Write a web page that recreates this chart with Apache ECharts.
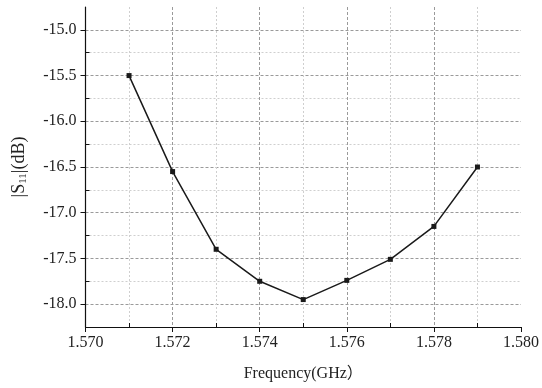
<!DOCTYPE html>
<html>
<head>
<meta charset="utf-8">
<script src="https://cdn.jsdelivr.net/npm/echarts@6/dist/echarts.min.js"></script>
<style>
  html, body { margin: 0; padding: 0; background: #fff; }
  #chart { width: 542px; height: 388px; }
</style>
</head>
<body>
<div id="chart"></div>
<script>
// 数据
const freq = [1.571, 1.572, 1.573, 1.574, 1.575, 1.576, 1.577, 1.578, 1.579];
const s11 = [-15.5, -16.55, -17.4, -17.75, -17.95, -17.74, -17.51, -17.15, -16.5];
const xMajor = [1.570, 1.572, 1.574, 1.576, 1.578, 1.580];
const xMinor = [1.571, 1.573, 1.575, 1.577, 1.579];
const yMajor = [-18.0, -17.5, -17.0, -16.5, -16.0, -15.5, -15.0];
const yMinor = [-18.25, -17.75, -17.25, -16.75, -16.25, -15.75, -15.25];

const font = '"Liberation Serif", "Times New Roman", "Noto Sans CJK SC", serif';
const chart = echarts.init(document.getElementById('chart'));

const baseX = {
  type: 'value', min: 1.570, max: 1.580, position: 'bottom'
};
const baseY = {
  type: 'value', min: -18.25, max: -14.75, position: 'left'
};
// 主网格线 颜色 (最右边不画)
const xMajorColors = xMajor.map((v, i) => i === xMajor.length - 1 ? 'rgba(0,0,0,0)' : '#9a9a9a');

const option = {
  animation: false,
  backgroundColor: '#fff',
  grid: { left: 85.5, right: 20, top: 7, bottom: 61, containLabel: false },
  xAxis: [
    Object.assign({}, baseX, {
      name: 'Frequency(GHz）',
      nameLocation: 'middle',
      nameGap: 39,
      nameTextStyle: { fontFamily: font, fontSize: 16, color: '#222' },
      axisLine: { show: true, lineStyle: { color: '#111', width: 1.2 } },
      axisTick: { show: true, inside: false, length: 5, customValues: xMajor, lineStyle: { color: '#111' } },
      axisLabel: {
        customValues: xMajor, margin: 8, fontFamily: font, fontSize: 16, color: '#222',
        formatter: v => v.toFixed(3)
      },
      splitLine: { show: true, lineStyle: { color: xMajorColors, type: [3, 2], width: 1 } }
    }),
    Object.assign({}, baseX, {
      axisLine: { show: false },
      axisTick: { show: true, inside: true, length: 4, customValues: xMinor, lineStyle: { color: '#111' } },
      axisLabel: { show: false, customValues: xMinor },
      splitLine: { show: true, lineStyle: { color: '#cfcfcf', type: [2, 2], width: 1 } }
    })
  ],
  yAxis: [
    Object.assign({}, baseY, {
      name: '{a||S}{s|11}{a||(dB)}',
      nameLocation: 'middle',
      nameRotate: 90,
      nameGap: 57,
      nameTextStyle: {
        fontFamily: font, fontSize: 18, color: '#222',
        rich: {
          a: { fontFamily: font, fontSize: 18, color: '#222' },
          s: { fontFamily: font, fontSize: 11, color: '#222', verticalAlign: 'bottom', padding: [7, 0, 0, 0] }
        }
      },
      axisLine: { show: true, lineStyle: { color: '#111', width: 1.2 } },
      axisTick: { show: true, inside: false, length: 5, customValues: yMajor, lineStyle: { color: '#111' } },
      axisLabel: {
        customValues: yMajor, margin: 9, fontFamily: font, fontSize: 16, color: '#222',
        formatter: v => v.toFixed(1)
      },
      splitLine: { show: true, lineStyle: { color: '#9a9a9a', type: [3, 2], width: 1 } }
    }),
    Object.assign({}, baseY, {
      axisLine: { show: false },
      axisTick: { show: true, inside: true, length: 4, customValues: yMinor, lineStyle: { color: '#111' } },
      axisLabel: { show: false, customValues: yMinor },
      splitLine: { show: true, lineStyle: { color: '#cfcfcf', type: [2, 2], width: 1 } }
    })
  ],
  series: [{
    type: 'line',
    xAxisIndex: 0,
    yAxisIndex: 0,
    data: freq.map((f, i) => [f, s11[i]]),
    symbol: 'rect',
    symbolSize: 5,
    itemStyle: { color: '#1a1a1a' },
    lineStyle: { color: '#1a1a1a', width: 1.5 },
    z: 5
  }]
};

chart.setOption(option);
</script>
</body>
</html>
